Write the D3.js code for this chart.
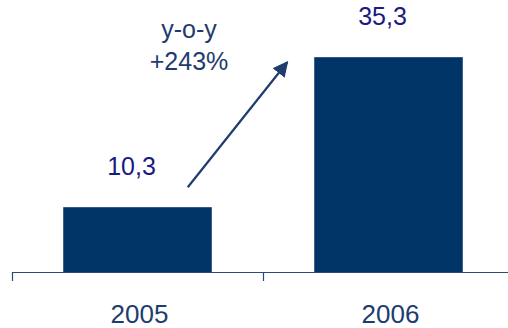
<!DOCTYPE html>
<html><head><meta charset="utf-8">
<script src="https://cdn.jsdelivr.net/npm/d3@7"></script>
<style>html,body{margin:0;padding:0;background:#fff;}svg{display:block;}</style>
</head><body>
<svg id="c" width="508" height="328"></svg>
<script>
const categories = ["2005", "2006"];
const values = [10.3, 35.3];
const valueLabels = ["10,3", "35,3"];
const growthLabel = ["y-o-y", "+243%"];

const svg = d3.select("#c");
const font = "'Liberation Sans', Arial, sans-serif";
const barColor = "#003366";
const axisColor = "#2a4a78";
const labelColor = "#1a1a80";
const textColor = "#1e3c6e";

const x = d3.scaleBand().domain(categories).range([12, 514]).padding(0);
const inner = d3.scaleBand().domain(["bar"]).range([0, x.bandwidth()]).paddingInner(0).paddingOuter(0.345);
const y = d3.scaleLinear().domain([-0.5, 40]).range([272, 29]);

// bars
svg.selectAll("rect.bar").data(categories).join("rect")
  .attr("class", "bar")
  .attr("x", d => x(d) + inner("bar"))
  .attr("width", inner.bandwidth())
  .attr("y", (d, i) => y(values[i]))
  .attr("height", (d, i) => y(-0.5) - y(values[i]))
  .attr("fill", barColor);

// axis
const axisY = y(-0.5);
svg.append("line").attr("x1", x.range()[0]).attr("x2", 508)
  .attr("y1", axisY + 0.5).attr("y2", axisY + 0.5)
  .attr("stroke", axisColor).attr("stroke-width", 1.2);
const boundaries = categories.map(d => x(d)).concat([x.range()[1]]);
svg.selectAll("line.tick").data(boundaries).join("line")
  .attr("class", "tick")
  .attr("x1", d => d + 0.5).attr("x2", d => d + 0.5)
  .attr("y1", axisY).attr("y2", axisY + 9)
  .attr("stroke", axisColor).attr("stroke-width", 1.2);

// category labels
svg.selectAll("text.cat").data(categories).join("text")
  .attr("class", "cat")
  .attr("x", d => x(d) + x.bandwidth() / 2 + 2)
  .attr("y", 323)
  .attr("text-anchor", "middle")
  .attr("font-family", font).attr("font-size", 26)
  .attr("fill", textColor)
  .text(d => d);

// value labels
svg.selectAll("text.val").data(categories).join("text")
  .attr("class", "val")
  .attr("x", d => x(d) + inner("bar") + inner.bandwidth() / 2 - 6)
  .attr("y", (d, i) => y(values[i]) - 32)
  .attr("text-anchor", "middle")
  .attr("font-family", font).attr("font-size", 25)
  .attr("fill", labelColor)
  .text((d, i) => valueLabels[i]);

// growth annotation
svg.append("defs").append("marker")
  .attr("id", "ah").attr("viewBox", "0 0 10 10")
  .attr("refX", 9).attr("refY", 5)
  .attr("markerWidth", 7).attr("markerHeight", 7)
  .attr("markerUnits", "strokeWidth")
  .attr("orient", "auto")
  .append("path").attr("d", "M0,0 L10,5 L0,10 Z").attr("fill", textColor);

const x0 = x(categories[0]) + inner("bar") + inner.bandwidth() - 24;
const y0 = y(values[0]) - 20;
const x1 = x(categories[1]) + inner("bar") - 27;
const y1 = y(values[1]) + 5;
svg.append("line").attr("x1", x0).attr("y1", y0).attr("x2", x1).attr("y2", y1)
  .attr("stroke", textColor).attr("stroke-width", 2.2)
  .attr("marker-end", "url(#ah)");

svg.selectAll("text.growth").data(growthLabel).join("text")
  .attr("class", "growth")
  .attr("x", 189)
  .attr("y", (d, i) => 38 + i * 32)
  .attr("text-anchor", "middle")
  .attr("font-family", font).attr("font-size", 25)
  .attr("fill", textColor)
  .text(d => d);
</script>
</body></html>
